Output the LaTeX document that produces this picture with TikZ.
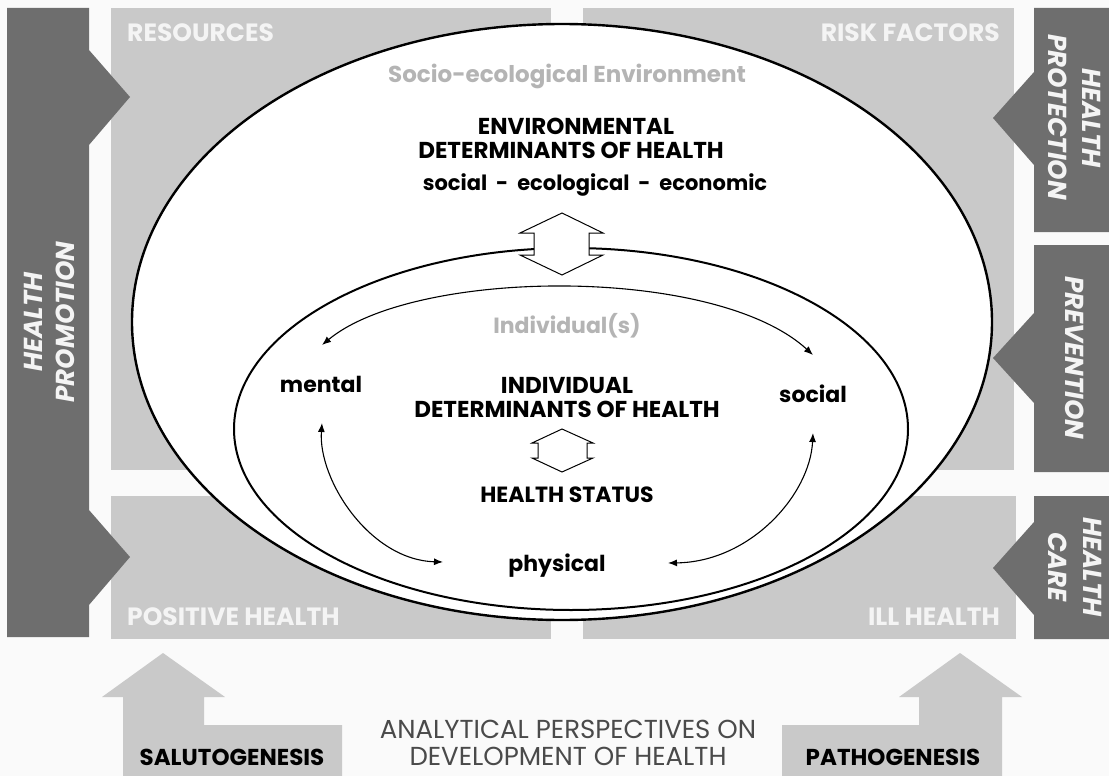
\documentclass[tikz,border=0pt]{standalone}
\usepackage{fontspec}
\setmainfont{Poppins}
\usetikzlibrary{arrows.meta}
\definecolor{bg}{HTML}{FAFAFA}
\definecolor{dark}{HTML}{6E6E6E}
\definecolor{light}{HTML}{C9C9C9}
\definecolor{pale}{HTML}{B4B4B4}
\definecolor{boxtext}{HTML}{F4F4F4}
\definecolor{thintext}{HTML}{4A4A4A}
\begin{document}
\begin{tikzpicture}[x=1pt,y=-1pt,
  darkbar/.style={fill=dark},
  lightbox/.style={fill=light},
  boxlabel/.style={text=boxtext, font=\fontsize{25}{28}\selectfont\bfseries, inner sep=0},
  sidelabel/.style={text=boxtext, font=\fontsize{26}{28}\selectfont\bfseries\itshape, inner sep=0},
  title/.style={font=\fontsize{23}{26}\selectfont\bfseries, inner sep=0},
  word/.style={font=\fontsize{22}{25}\selectfont\bfseries, inner sep=0},
  subword/.style={font=\fontsize{21}{24}\selectfont\bfseries, inner sep=0},
  paletext/.style={text=pale, font=\fontsize{22}{25}\selectfont\bfseries, inner sep=0},
  bottomlabel/.style={font=\fontsize{23}{26}\selectfont\bfseries, inner sep=0},
  thinlabel/.style={text=thintext, font=\fontsize{26}{28}\selectfont, inner sep=0},
  link/.style={line width=1.1pt, {Latex[length=9pt,width=7pt]}-{Latex[length=9pt,width=7pt]}},
  blockarrow/.style={fill=white, draw=black, line width=1pt, line join=miter},
]
\useasboundingbox (0,0) rectangle (1109,776);
\fill[bg] (0,0) rectangle (1109,776);

% light grey boxes
\fill[lightbox] (111,8) rectangle (551,470);
\fill[lightbox] (583,8) rectangle (1014,470);
\fill[lightbox] (111,496) rectangle (551,639);
\fill[lightbox] (583,496) rectangle (1016,639);

% bottom arrows
\fill[lightbox] (163,653) -- (225,697) -- (204,697) -- (204,725) -- (342,725) -- (342,776)
  -- (123,776) -- (123,697) -- (102,697) -- cycle;
\fill[lightbox] (960,653) -- (1022,697) -- (1002,697) -- (1002,776) -- (782,776) -- (782,725)
  -- (919,725) -- (919,697) -- (899,697) -- cycle;

% dark bars
\fill[darkbar] (7,8) -- (89,8) -- (89,50) -- (130,97) -- (89,145) -- (89,510) -- (130,557)
  -- (89,605) -- (89,637) -- (7,637) -- cycle;
\fill[darkbar] (1034,8) -- (1109,8) -- (1109,232) -- (1034,232) -- (1034,165) -- (993,118)
  -- (1034,72) -- cycle;
\fill[darkbar] (1034,245) -- (1109,245) -- (1109,472) -- (1034,472) -- (1034,403) -- (993,358)
  -- (1034,313) -- cycle;
\fill[darkbar] (1034,496) -- (1109,496) -- (1109,639) -- (1034,639) -- (1034,615) -- (993,568)
  -- (1034,522) -- cycle;

% ellipses
\draw[fill=white, line width=2.4pt] (562,322) ellipse [x radius=430, y radius=298];
\draw[fill=white, line width=2pt] (571,429) ellipse [x radius=337, y radius=181];

% block arrows
\draw[blockarrow] (562,213) -- (603,233) -- (589,233) -- (589,255) -- (603,255) -- (562,275)
  -- (520,255) -- (534,255) -- (534,233) -- (520,233) -- cycle;
\draw[blockarrow] (562,429) -- (593,443) -- (587,443) -- (587,458) -- (593,458) -- (562,472)
  -- (532,458) -- (538,458) -- (538,443) -- (532,443) -- cycle;

% box labels
\node[boxlabel, anchor=base west] (resources) at (127,42) {RESOURCES};
\node[boxlabel, anchor=base east] (risk) at (1000,42) {RISK FACTORS};
\node[boxlabel, anchor=base west] (positive) at (127,625) {POSITIVE HEALTH};
\node[boxlabel, anchor=base east] (ill) at (1000,625) {ILL HEALTH};

% side labels
\node[sidelabel, anchor=base, rotate=90] (promo1) at (42,322) {HEALTH};
\node[sidelabel, anchor=base, rotate=90] (promo2) at (74,322) {PROMOTION};
\node[sidelabel, anchor=base, rotate=-90] (prot1) at (1082,118) {HEALTH};
\node[sidelabel, anchor=base, rotate=-90] (prot2) at (1048,117) {PROTECTION};
\node[sidelabel, anchor=base, rotate=-90] (prev) at (1065,358) {PREVENTION};
\node[sidelabel, anchor=base, rotate=-90] (care1) at (1083,567) {HEALTH};
\node[sidelabel, anchor=base, rotate=-90] (care2) at (1048,567) {CARE};

% central texts
\node[paletext, font=\fontsize{23}{26}\selectfont\bfseries, anchor=base] (socio) at (567,83) {Socio-ecological Environment};
\node[title, anchor=base] (env1) at (576,135) {ENVIRONMENTAL};
\node[title, anchor=base] (env2) at (571,158) {DETERMINANTS OF HEALTH};
\node[subword, anchor=base] (envsub) at (595,190) {social\ \ -\ \ ecological\ \ -\ \ economic};
\node[paletext, anchor=base] (indiv) at (567,333) {Individual(s)};
\node[title, anchor=base] (ind1) at (567,393) {INDIVIDUAL};
\node[title, anchor=base] (ind2) at (567,417) {DETERMINANTS OF HEALTH};
\node[word, anchor=base] (status) at (567,502) {HEALTH STATUS};
\node[word, anchor=base] (mental) at (321,392) {mental};
\node[word, anchor=base] (social) at (813,402) {social};
\node[word, anchor=base] (physical) at (557,571) {physical};

% bottom labels
\node[bottomlabel, anchor=base] (saluto) at (232,765) {SALUTOGENESIS};
\node[bottomlabel, anchor=base] (patho) at (893,765) {PATHOGENESIS};
\node[thinlabel, anchor=base] (anal1) at (568,738) {ANALYTICAL PERSPECTIVES ON};
\node[thinlabel, anchor=base] (anal2) at (568,765) {DEVELOPMENT OF HEALTH};

% curved connectors
\draw[link] ([shift={(1,-47)}]mental.base) .. controls (415,268) and (715,265) .. ([shift={(0,-47)}]social.base);
\draw[link] ([shift={(1,31)}]mental.base) .. controls (318,480) and (370,560) .. ([shift={(-114,-9)}]physical.base);
\draw[link] ([shift={(0,31)}]social.base) .. controls (810,495) and (750,562) .. ([shift={(111,-8)}]physical.base);
\end{tikzpicture}
\end{document}
